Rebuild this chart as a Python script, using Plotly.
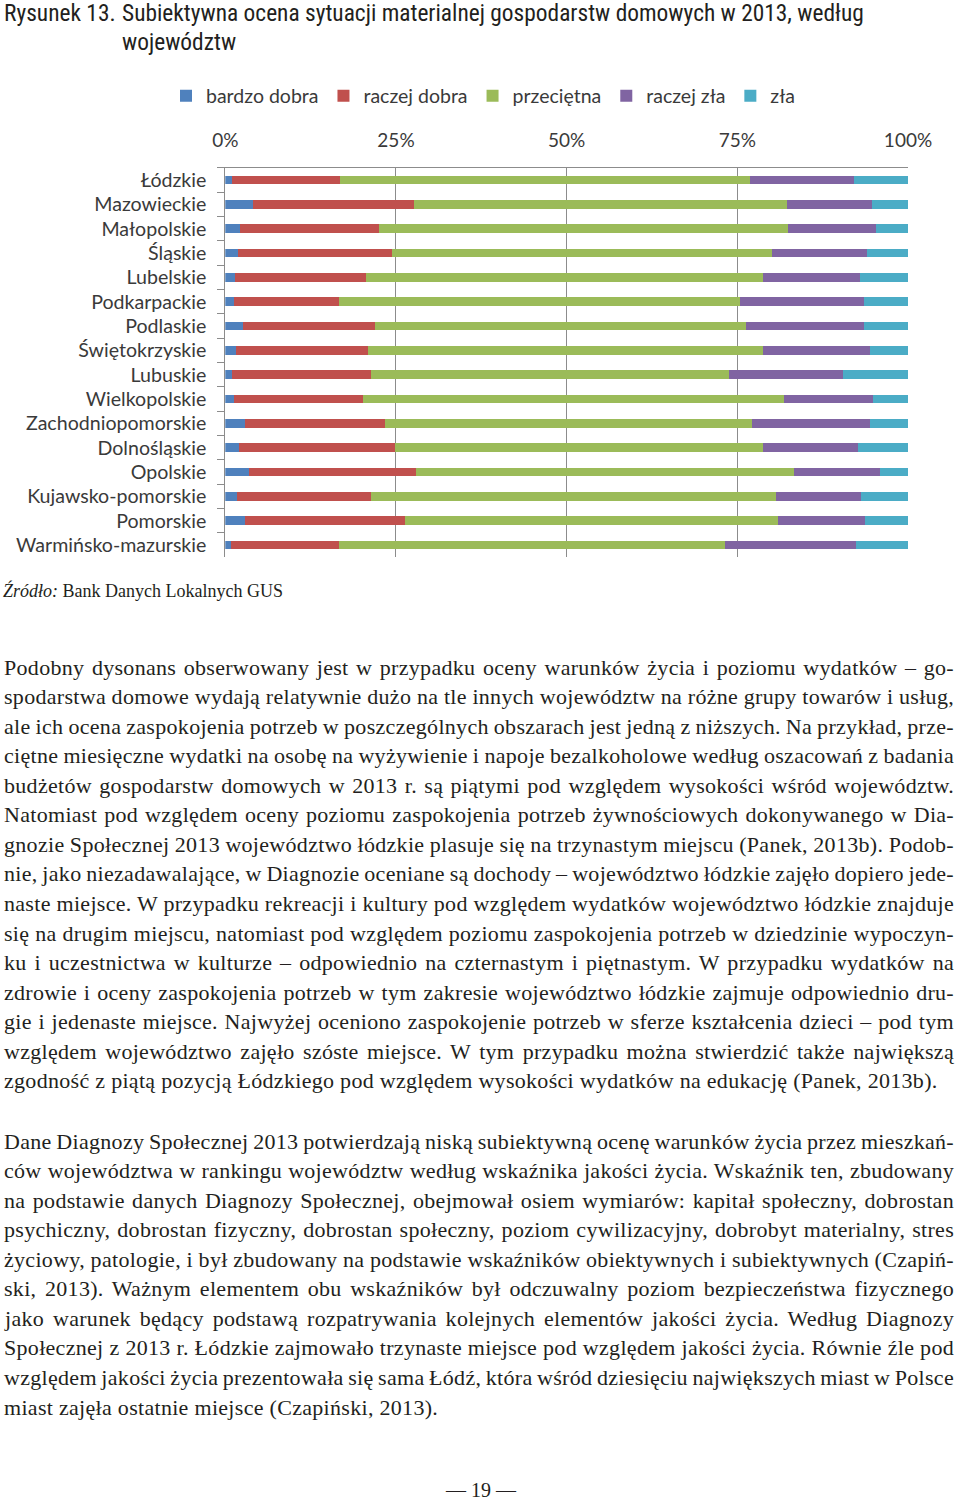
import plotly.graph_objects as go

# ---------------- data ----------------
regions = ["Łódzkie", "Mazowieckie", "Małopolskie", "Śląskie", "Lubelskie",
           "Podkarpackie", "Podlaskie", "Świętokrzyskie", "Lubuskie",
           "Wielkopolskie", "Zachodniopomorskie", "Dolnośląskie", "Opolskie",
           "Kujawsko-pomorskie", "Pomorskie", "Warmińsko-mazurskie"]

bardzo_dobra = [1.0, 4.0, 2.1, 1.8, 1.4, 1.3, 2.6, 1.5, 1.0, 1.3, 2.9, 2.0, 3.4, 1.7, 2.9, 0.8]
raczej_dobra = [15.8, 23.7, 20.4, 22.6, 19.2, 15.3, 19.3, 19.4, 20.4, 18.9, 20.5, 22.9, 24.5, 19.7, 23.4, 15.9]
przecietna = [60.1, 54.6, 59.9, 55.7, 58.1, 58.8, 54.4, 57.8, 52.4, 61.7, 53.8, 53.8, 55.4, 59.3, 54.7, 56.5]
raczej_zla = [15.2, 12.4, 12.9, 13.9, 14.3, 18.2, 17.2, 15.7, 16.7, 13.0, 17.2, 14.0, 12.6, 12.4, 12.7, 19.2]
zla = [7.9, 5.4, 4.7, 6.0, 7.0, 6.4, 6.5, 5.6, 9.5, 5.1, 5.6, 7.3, 4.1, 6.9, 6.3, 7.6]

series_names = ["bardzo dobra", "raczej dobra", "przeciętna", "raczej zła", "zła"]
series_colors = ["#4F81BD", "#C0504D", "#9BBB59", "#8064A2", "#4BACC6"]

tick_vals = [0, 25, 50, 75, 100]
tick_text = ["0%", "25%", "50%", "75%", "100%"]

title_label = "Rysunek 13."
title_lines = ["Subiektywna ocena sytuacji materialnej gospodarstw domowych w 2013, według",
               "województw"]
source_text = "<i>Źródło:</i> Bank Danych Lokalnych GUS"

para1 = [
    "Podobny dysonans obserwowany jest w przypadku oceny warunków życia i poziomu wydatków – go-",
    "spodarstwa domowe wydają relatywnie dużo na tle innych województw na różne grupy towarów i usług,",
    "ale ich ocena zaspokojenia potrzeb w poszczególnych obszarach jest jedną z niższych. Na przykład, prze-",
    "ciętne miesięczne wydatki na osobę na wyżywienie i napoje bezalkoholowe według oszacowań z badania",
    "budżetów gospodarstw domowych w 2013 r. są piątymi pod względem wysokości wśród województw.",
    "Natomiast pod względem oceny poziomu zaspokojenia potrzeb żywnościowych dokonywanego w Dia-",
    "gnozie Społecznej 2013 województwo łódzkie plasuje się na trzynastym miejscu (Panek, 2013b). Podob-",
    "nie, jako niezadawalające, w Diagnozie oceniane są dochody – województwo łódzkie zajęło dopiero jede-",
    "naste miejsce. W przypadku rekreacji i kultury pod względem wydatków województwo łódzkie znajduje",
    "się na drugim miejscu, natomiast pod względem poziomu zaspokojenia potrzeb w dziedzinie wypoczyn-",
    "ku i uczestnictwa w kulturze – odpowiednio na czternastym i piętnastym. W przypadku wydatków na",
    "zdrowie i oceny zaspokojenia potrzeb w tym zakresie województwo łódzkie zajmuje odpowiednio dru-",
    "gie i jedenaste miejsce. Najwyżej oceniono zaspokojenie potrzeb w sferze kształcenia dzieci – pod tym",
    "względem województwo zajęło szóste miejsce. W tym przypadku można stwierdzić także największą",
    "zgodność z piątą pozycją Łódzkiego pod względem wysokości wydatków na edukację (Panek, 2013b).",
]
para2 = [
    "Dane Diagnozy Społecznej 2013 potwierdzają niską subiektywną ocenę warunków życia przez mieszkań-",
    "ców województwa w rankingu województw według wskaźnika jakości życia. Wskaźnik ten, zbudowany",
    "na podstawie danych Diagnozy Społecznej, obejmował osiem wymiarów: kapitał społeczny, dobrostan",
    "psychiczny, dobrostan fizyczny, dobrostan społeczny, poziom cywilizacyjny, dobrobyt materialny, stres",
    "życiowy, patologie, i był zbudowany na podstawie wskaźników obiektywnych i subiektywnych (Czapiń-",
    "ski, 2013). Ważnym elementem obu wskaźników był odczuwalny poziom bezpieczeństwa fizycznego",
    "jako warunek będący podstawą rozpatrywania kolejnych elementów jakości życia. Według Diagnozy",
    "Społecznej z 2013 r. Łódzkie zajmowało trzynaste miejsce pod względem jakości życia. Równie źle pod",
    "względem jakości życia prezentowała się sama Łódź, która wśród dziesięciu największych miast w Polsce",
    "miast zajęła ostatnie miejsce (Czapiński, 2013).",
]
page_number = "— 19 —"

# ---------------- figure ----------------
W, H = 960, 1501
def py(px):
    return 1 - px / H
def pxx(px):
    return px / W

values = [bardzo_dobra, raczej_dobra, przecietna, raczej_zla, zla]
fig = go.Figure()
for name, col, vals in zip(series_names, series_colors, values):
    fig.add_trace(go.Bar(y=regions, x=vals, name=name, orientation="h",
                         marker=dict(color=col, line=dict(width=0))))

chart_font = "Lato, Open Sans, sans-serif"
serif = "Liberation Serif, DejaVu Serif, serif"
axis_grey = "#8c8c8c"

fig.update_layout(
    width=W, height=H, margin=dict(l=0, r=0, t=0, b=0, autoexpand=False),
    autosize=False,
    paper_bgcolor="white", plot_bgcolor="white",
    barmode="stack", bargap=0.64,
    font=dict(family=chart_font, color="#3a3a3a", size=19),
    legend=dict(orientation="h", x=pxx(166), y=py(96), xanchor="left", yanchor="middle",
                font=dict(family=chart_font, size=19.5, color="#3a3a3a"),
                itemwidth=30, traceorder="normal", bgcolor="rgba(0,0,0,0)"),
    xaxis=dict(domain=[pxx(225.3), pxx(908)], range=[0, 100], side="top",
               tickvals=tick_vals, ticktext=tick_text, showgrid=True,
               gridcolor=axis_grey, gridwidth=1, showline=True, linecolor=axis_grey,
               linewidth=1, zeroline=False, ticks="", ticklabelstandoff=12,
               automargin=False,
               tickfont=dict(family=chart_font, size=19, color="#3a3a3a")),
    yaxis=dict(domain=[py(557.2), py(167.8)], autorange="reversed",
               showline=True, linecolor=axis_grey, linewidth=1,
               ticks="outside", tickson="boundaries", ticklen=7, tickcolor=axis_grey,
               showgrid=False, ticklabelstandoff=14, automargin=False,
               tickfont=dict(family=chart_font, size=19.6, color="#3a3a3a")),
)

ann = []
title_font = dict(family="Liberation Sans Narrow, Roboto Condensed, Liberation Sans, sans-serif",
                  size=23.4, color="#231f20")
ann.append(dict(text=title_label, x=pxx(2), y=py(13), xanchor="left", yanchor="middle",
                xref="paper", yref="paper", showarrow=False, font=title_font))
ann.append(dict(text=title_lines[0], x=pxx(120), y=py(13), xanchor="left", yanchor="middle",
                xref="paper", yref="paper", showarrow=False, font=title_font))
ann.append(dict(text=title_lines[1], x=pxx(120), y=py(42), xanchor="left", yanchor="middle",
                xref="paper", yref="paper", showarrow=False, font=title_font))
ann.append(dict(text=source_text, x=pxx(1), y=py(590), xanchor="left", yanchor="middle",
                xref="paper", yref="paper", showarrow=False,
                font=dict(family=serif, size=18, color="#231f20")))

body_font = dict(family=serif, size=22, color="#231f20")
justify_idx = []
body_idx = []
line_h = 29.57
for block, y0 in ((para1, 667), (para2, 1141)):
    for i, line in enumerate(block):
        body_idx.append(len(ann))
        if i < len(block) - 1:
            justify_idx.append(len(ann))
        ann.append(dict(text=line, x=pxx(2), y=py(y0 + i * line_h), xanchor="left",
                        yanchor="middle", align="left", xref="paper", yref="paper",
                        showarrow=False, font=body_font))
ann.append(dict(text=page_number, x=pxx(481), y=py(1490), xanchor="center", yanchor="middle",
                xref="paper", yref="paper", showarrow=False,
                font=dict(family=serif, size=20, color="#231f20")))
fig.update_layout(annotations=ann)

post = """
(function(){
  document.documentElement.style.margin = '0';
  document.body.style.margin = '0';
  document.body.style.overflow = 'hidden';
  var gd = document.getElementById('{plot_id}');
  var JUST = %s;
  var BODY = %s;
  var TARGET = 950;
  function justify(){
    var groups = gd.querySelectorAll('g.annotation');
    groups.forEach(function(g){
      var idx = parseInt(g.getAttribute('data-index'));
      if (BODY.indexOf(idx) < 0) return;
      var t = g.querySelector('text.annotation-text');
      if (!t) return;
      t.style.letterSpacing = '0.3px';
      if (JUST.indexOf(idx) < 0) return;
      t.style.wordSpacing = '0px';
      var n = (t.textContent.match(/ /g) || []).length;
      if (n === 0) return;
      var len = t.getBBox().width;
      var ws = (TARGET - len) / n;
      t.style.wordSpacing = ws + 'px';
      var len2 = t.getBBox().width;
      ws += (TARGET - len2) / n;
      t.style.wordSpacing = ws + 'px';
    });
  }
  justify();
  if (document.fonts && document.fonts.ready) { document.fonts.ready.then(justify); }
  if (gd.on) { gd.on('plotly_afterplot', justify); }
})();
""" % (str(justify_idx), str(body_idx))

fig.write_html("out.html", post_script=post,
               config={"responsive": False, "displayModeBar": False})
